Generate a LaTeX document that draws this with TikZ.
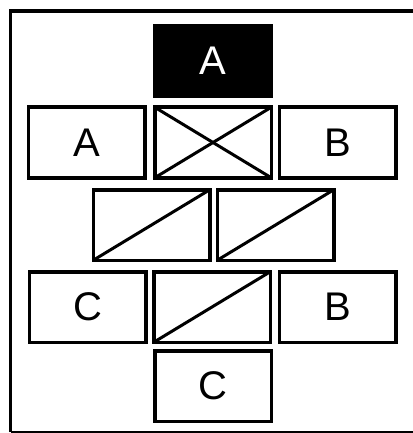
\documentclass[tikz,border=0pt]{standalone}
\usepackage{fontspec}
\setmainfont{Liberation Sans}
\begin{document}
\begin{tikzpicture}[x=1pt, y=-1pt, line width=3.5pt,
  cell/.style={rectangle, draw, minimum width=116.5pt, minimum height=70.5pt, inner sep=0pt, outer sep=0pt, font=\fontsize{40}{40}\selectfont},
  darkcell/.style={cell, fill=black, text=white}]
  \useasboundingbox (0,0) rectangle (412,433);

  % Moldura
  \draw (10.5,432) -- (10.5,11) -- (420,11);
  \draw[line width=1.5pt] (10.5,432) -- (420,432);

  % Caixas
  \node[darkcell] (topA) at (213,61) {A};
  \node[cell] (leftA) at (86.5,142.5) {A};
  \node[cell] (cross) at (213,142.5) {};
  \node[cell] (rightB) at (337.5,142.5) {B};
  \node[cell] (diagL) at (151.5,225) {};
  \node[cell] (diagR) at (275.5,225) {};
  \node[cell] (leftC) at (87.5,307) {C};
  \node[cell] (diagM) at (212,307) {};
  \node[cell] (rightB2) at (337.5,307) {B};
  \node[cell] (bottomC) at (213,386) {C};

  % Diagonais
  \draw[line width=3pt] (cross.south west) -- (cross.north east);
  \draw[line width=3pt] (cross.north west) -- (cross.south east);
  \draw[line width=3pt] (diagL.south west) -- (diagL.north east);
  \draw[line width=3pt] (diagR.south west) -- (diagR.north east);
  \draw[line width=3pt] (diagM.south west) -- (diagM.north east);
\end{tikzpicture}
\end{document}
